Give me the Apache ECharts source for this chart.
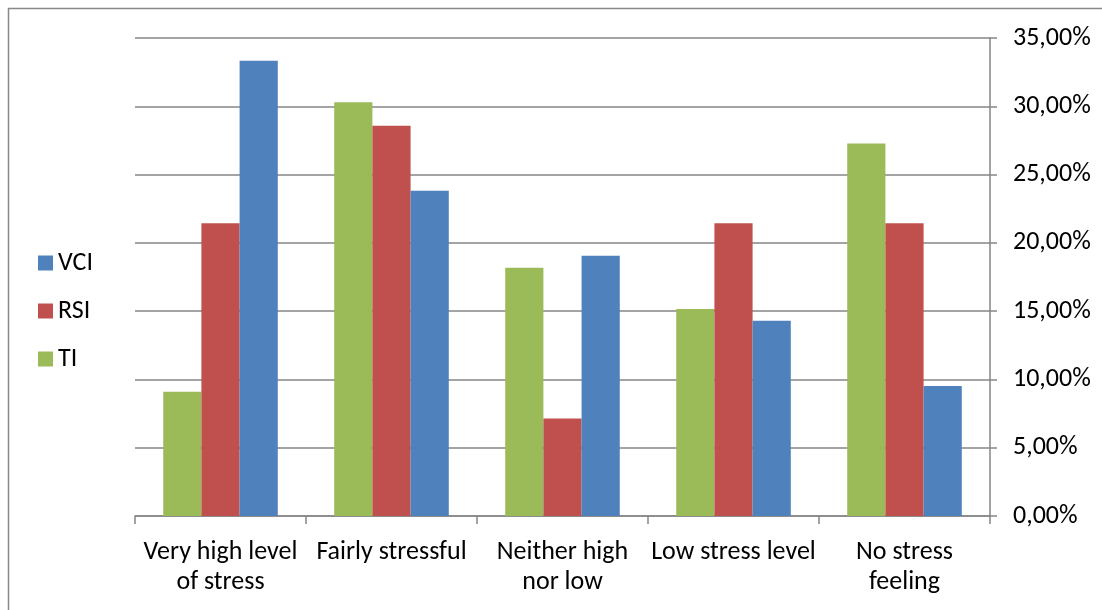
<!DOCTYPE html>
<html>
<head>
<meta charset="utf-8">
<script src="https://cdn.jsdelivr.net/npm/echarts@6/dist/echarts.min.js"></script>
<style>html,body{margin:0;padding:0;background:#fff;}#c{width:1102px;height:610px;}</style>
</head>
<body>
<div id="c"></div>
<script>
var categories = ['Very high level\nof stress', 'Fairly stressful', 'Neither high\nnor low', 'Low stress level', 'No stress\nfeeling'];
var TI = [9.09, 30.30, 18.18, 15.15, 27.27];
var RSI = [21.43, 28.57, 7.14, 21.43, 21.43];
var VCI = [33.33, 23.81, 19.05, 14.29, 9.52];
var yTicks = {min: 0, max: 35, interval: 5};

var font = 'Carlito, Lato, sans-serif';
var chart = echarts.init(document.getElementById('c'));
chart.setOption({
  animation: false,
  backgroundColor: '#fff',
  graphic: [{
    type: 'rect', shape: {x: 8.5, y: 8.5, width: 1200, height: 700},
    style: {fill: 'none', stroke: '#898989', lineWidth: 1.5}, silent: true
  }],
  legend: {
    orient: 'vertical', left: 33, top: 245,
    itemWidth: 15, itemHeight: 15, itemGap: 22,
    icon: 'rect',
    data: ['VCI', 'RSI', 'TI'],
    textStyle: {fontFamily: font, fontSize: 26, lineHeight: 26, color: '#000', padding: [0, 0, 0, 0]}
  },
  grid: {left: 135, right: 112, top: 38, bottom: 94, containLabel: false},
  xAxis: {
    type: 'category', data: categories,
    axisLine: {lineStyle: {color: '#868686', width: 1.5}},
    axisTick: {show: true, length: 8, lineStyle: {color: '#868686', width: 1.5}},
    axisLabel: {fontFamily: font, fontSize: 26, color: '#000', margin: 21, lineHeight: 30, interval: 0}
  },
  yAxis: {
    type: 'value', position: 'right', min: yTicks.min, max: yTicks.max, interval: yTicks.interval,
    axisLine: {show: true, lineStyle: {color: '#868686', width: 1.5}},
    axisTick: {show: true, length: 7, lineStyle: {color: '#868686', width: 1.5}},
    splitLine: {lineStyle: {color: '#868686', width: 1.5}},
    axisLabel: {fontFamily: font, fontSize: 26, color: '#000', margin: 23,
      formatter: function (v) { return v.toFixed(2).replace('.', ',') + '%'; }}
  },
  series: [
    {name: 'TI', type: 'bar', data: TI, itemStyle: {color: '#9BBB59'}, barGap: '0%', barCategoryGap: '33%'},
    {name: 'RSI', type: 'bar', data: RSI, itemStyle: {color: '#C0504D'}, barGap: '0%', barCategoryGap: '33%'},
    {name: 'VCI', type: 'bar', data: VCI, itemStyle: {color: '#4F81BD'}, barGap: '0%', barCategoryGap: '33%'}
  ]
});
</script>
</body>
</html>
